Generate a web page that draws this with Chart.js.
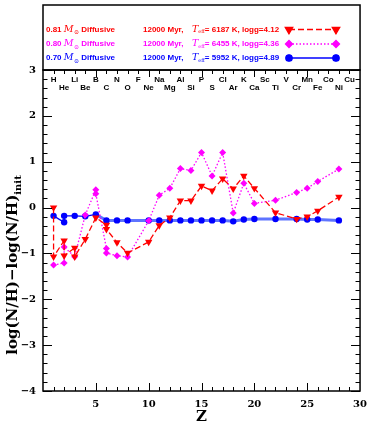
<!DOCTYPE html>
<html>
<head>
<meta charset="utf-8">
<script src="https://cdn.jsdelivr.net/npm/chart.js@4"></script>
<style>
html,body{margin:0;padding:0;background:#fff;}
canvas{display:block;}
</style>
</head>
<body>
<canvas id="c" width="374" height="427"></canvas>
<script>
// ---- data ----
const elementSymbols = ['H','He','Li','Be','B','C','N','O','F','Ne','Na','Mg','Al','Si','P','S','Cl','Ar','K','Ca','Sc','Ti','V','Cr','Mn','Fe','Co','Ni','Cu'];

const redZ   = [1, 1, 2, 2, 3, 3, 4, 5, 6, 6, 7, 8, 10, 11, 12, 13, 14, 15, 16, 17, 18, 19, 20, 22, 24, 25, 26, 28];
const redVal = [0.0, -1.07, -0.72, -1.05, -0.88, -1.07, -0.69, -0.22, -0.38, -0.47, -0.76, -0.99, -0.75, -0.39, -0.22, 0.15, 0.15, 0.47, 0.37, 0.63, 0.41, 0.69, 0.42, -0.11, -0.25, -0.20, -0.07, 0.23];

const pinkZ   = [1, 2, 2, 3, 4, 5, 5, 6, 6, 7, 8, 10, 11, 12, 13, 14, 15, 16, 17, 18, 19, 20, 22, 24, 25, 26, 28];
const pinkVal = [-1.25, -1.21, -0.86, -1.07, -0.16, 0.39, 0.30, -0.89, -0.99, -1.05, -1.08, -0.29, 0.27, 0.42, 0.85, 0.81, 1.20, 0.69, 1.20, -0.12, 0.53, 0.09, 0.16, 0.33, 0.42, 0.57, 0.84];

const blueZ   = [1, 2, 2, 3, 4, 5, 6, 7, 8, 10, 11, 12, 13, 14, 15, 16, 17, 18, 19, 20, 22, 24, 25, 26, 28];
const blueVal = [-0.18, -0.32, -0.18, -0.18, -0.19, -0.15, -0.28, -0.28, -0.28, -0.28, -0.28, -0.28, -0.28, -0.28, -0.28, -0.28, -0.28, -0.30, -0.26, -0.25, -0.25, -0.25, -0.26, -0.26, -0.28];

const seriesMass  = ['0.81', '0.80', '0.70'];
const seriesTeff  = ['6187', '6455', '5952'];
const seriesLogg  = ['4.12', '4.36', '4.89'];
const seriesAge   = '12000 Myr,';
const seriesColor = ['#ff0000', '#ff00ff', '#0000ff'];

const xTickValues = [5, 10, 15, 20, 25, 30];
const yTickValues = [3, 2, 1, 0, -1, -2, -3, -4];

function pts(zs, vs){ return zs.map((z,i)=>({x:z, y:vs[i]})); }

const SERIF = '"DejaVu Serif", serif';
const SANS = '"Liberation Sans", Arial, sans-serif';

const decor = {
  id: 'decor',
  afterDraw(chart){
    const ctx = chart.ctx;
    const xs = chart.scales.x, ys = chart.scales.y;
    const a = chart.chartArea;
    ctx.save();
    ctx.strokeStyle = '#000';
    ctx.lineWidth = 1.5;
    // frames
    ctx.strokeRect(a.left, a.top, a.right - a.left, a.bottom - a.top);
    ctx.strokeRect(a.left, 5, a.right - a.left, a.top - 5);
    // x ticks bottom and top
    ctx.lineWidth = 1;
    for (let z = 1; z < 30; z++){
      const px = Math.round(xs.getPixelForValue(z)) + 0.5;
      const major = z % 5 === 0;
      ctx.beginPath();
      ctx.moveTo(px, a.bottom); ctx.lineTo(px, a.bottom - (major ? 8 : 4));
      ctx.moveTo(px, a.top); ctx.lineTo(px, a.top + (major ? 7 : 4));
      ctx.stroke();
    }
    // y ticks left and right
    for (let k = -20; k <= 15; k++){
      const v = k / 5;
      const py = Math.round(ys.getPixelForValue(v)) + 0.5;
      const major = k % 5 === 0;
      ctx.beginPath();
      ctx.moveTo(a.left, py); ctx.lineTo(a.left + (major ? 9 : 4.5), py);
      ctx.moveTo(a.right, py); ctx.lineTo(a.right - (major ? 9 : 4.5), py);
      ctx.stroke();
    }
    // element labels
    ctx.fillStyle = '#000';
    ctx.font = 'bold 8px ' + SANS;
    ctx.textAlign = 'center';
    ctx.textBaseline = 'middle';
    elementSymbols.forEach((s, i) => {
      const z = i + 1;
      const px = xs.getPixelForValue(z);
      ctx.fillText(s, px, (z % 2 === 1) ? a.top + 10 : a.top + 17.5);
    });
    // legend
    const rowsY = [29.5, 44, 58];
    ctx.textAlign = 'left';
    ctx.textBaseline = 'middle';
    const drawSegs = (x, y, segs) => {
      segs.forEach(s => {
        if (s.x !== undefined) x = s.x;
        ctx.font = s.font;
        ctx.fillText(s.t, x, y + (s.dy || 0));
        x += ctx.measureText(s.t).width + (s.gap || 0);
      });
      return x;
    };
    const LF = 'bold 8px ' + SANS;
    const ds = chart.data.datasets;
    for (let i = 0; i < 3; i++){
      const y = rowsY[i];
      ctx.fillStyle = seriesColor[i];
      drawSegs(46, y, [
        {t: seriesMass[i] + ' ', font: LF},
        {t: 'M', font: 'italic 9.5px ' + SERIF, gap: 0.5},
        {t: '⊙', font: '6px ' + SERIF, dy: 3},
        {t: ' Diffusive', font: LF}
      ]);
      drawSegs(143, y, [
        {t: seriesAge, font: LF},
        {t: 'T', font: 'italic 9.5px ' + SERIF, x: 192},
        {t: 'eff', font: '5px ' + SERIF, dy: 2.5},
        {t: '= ' + seriesTeff[i] + ' K, logg=' + seriesLogg[i], font: LF}
      ]);
      // line sample
      const d = ds[i];
      ctx.strokeStyle = seriesColor[i];
      ctx.lineWidth = d.borderWidth;
      ctx.setLineDash(d.borderDash || []);
      ctx.beginPath(); ctx.moveTo(289, y); ctx.lineTo(336, y); ctx.stroke();
      ctx.setLineDash([]);
      [289, 336].forEach(px => {
        Chart.helpers.drawPoint(ctx, {pointStyle: d.pointStyle, radius: d.pointRadius, rotation: d.rotation || 0, borderWidth: 1}, px, y);
        ctx.fillStyle = seriesColor[i];
        ctx.fill();
      });
    }
    // axis titles
    ctx.fillStyle = '#000';
    ctx.font = 'bold 15px ' + SERIF;
    ctx.textAlign = 'center';
    ctx.textBaseline = 'middle';
    ctx.fillText('Z', xs.getPixelForValue(15), 417);
    ctx.save();
    ctx.translate(13, 265);
    ctx.rotate(-Math.PI / 2);
    const mainF = 'bold 15px ' + SERIF, subF = 'bold 10px ' + SERIF;
    ctx.font = mainF; const w1 = ctx.measureText('log(N/H)\u2212log(N/H)').width;
    ctx.font = subF; const w2 = ctx.measureText('init').width;
    let sx = -(w1 + w2) / 2;
    ctx.textAlign = 'left';
    ctx.font = mainF; ctx.fillText('log(N/H)\u2212log(N/H)', sx, 0);
    ctx.font = subF; ctx.fillText('init', sx + w1, 5);
    ctx.restore();
    ctx.restore();
  }
};

new Chart(document.getElementById('c'), {
  type: 'scatter',
  data: {
    datasets: [
      {
        label: '0.81', data: pts(redZ, redVal), showLine: true,
        borderColor: seriesColor[0], backgroundColor: seriesColor[0],
        borderWidth: 1.3, borderDash: [6, 3],
        pointStyle: 'triangle', rotation: 180, pointRadius: 4.3, pointBorderWidth: 0
      },
      {
        label: '0.80', data: pts(pinkZ, pinkVal), showLine: true,
        borderColor: seriesColor[1], backgroundColor: seriesColor[1],
        borderWidth: 1.3, borderDash: [1.5, 2],
        pointStyle: 'rectRot', pointRadius: 3.5, pointBorderWidth: 0
      },
      {
        label: '0.70', data: pts(blueZ, blueVal), showLine: true,
        borderColor: seriesColor[2], backgroundColor: seriesColor[2],
        borderWidth: 1.3,
        pointStyle: 'circle', pointRadius: 3.2, pointBorderWidth: 0,
        segment: {
          borderWidth: c => c.p0.parsed.x >= 5 ? 3 : 1.3,
          borderColor: c => c.p0.parsed.x >= 5 ? 'rgba(40,70,255,0.75)' : '#0000ff'
        }
      }
    ]
  },
  options: {
    responsive: false,
    devicePixelRatio: 1,
    animation: false,
    layout: { padding: { top: 70, right: 10, left: 0, bottom: 0 } },
    plugins: { legend: { display: false }, tooltip: { enabled: false } },
    scales: {
      x: {
        type: 'linear', min: 0, max: 30,
        afterFit: s => { s.height = 36; },
        afterBuildTicks: s => { s.ticks = xTickValues.map(v => ({value: v})); },
        grid: { display: false, drawTicks: false },
        border: { display: false },
        ticks: { padding: 7, color: '#000', font: { family: '"DejaVu Serif", serif', weight: 'bold', size: 10 }, maxRotation: 0 }
      },
      y: {
        type: 'linear', min: -4, max: 3,
        afterFit: s => { s.width = 43; },
        afterBuildTicks: s => { s.ticks = yTickValues.map(v => ({value: v})); },
        grid: { display: false, drawTicks: false },
        border: { display: false },
        ticks: { padding: 7, color: '#000', font: { family: '"DejaVu Serif", serif', weight: 'bold', size: 10 },
          callback: v => v < 0 ? '\u2212' + Math.abs(v) : String(v) }
      }
    }
  },
  plugins: [decor]
});
</script>
</body>
</html>
